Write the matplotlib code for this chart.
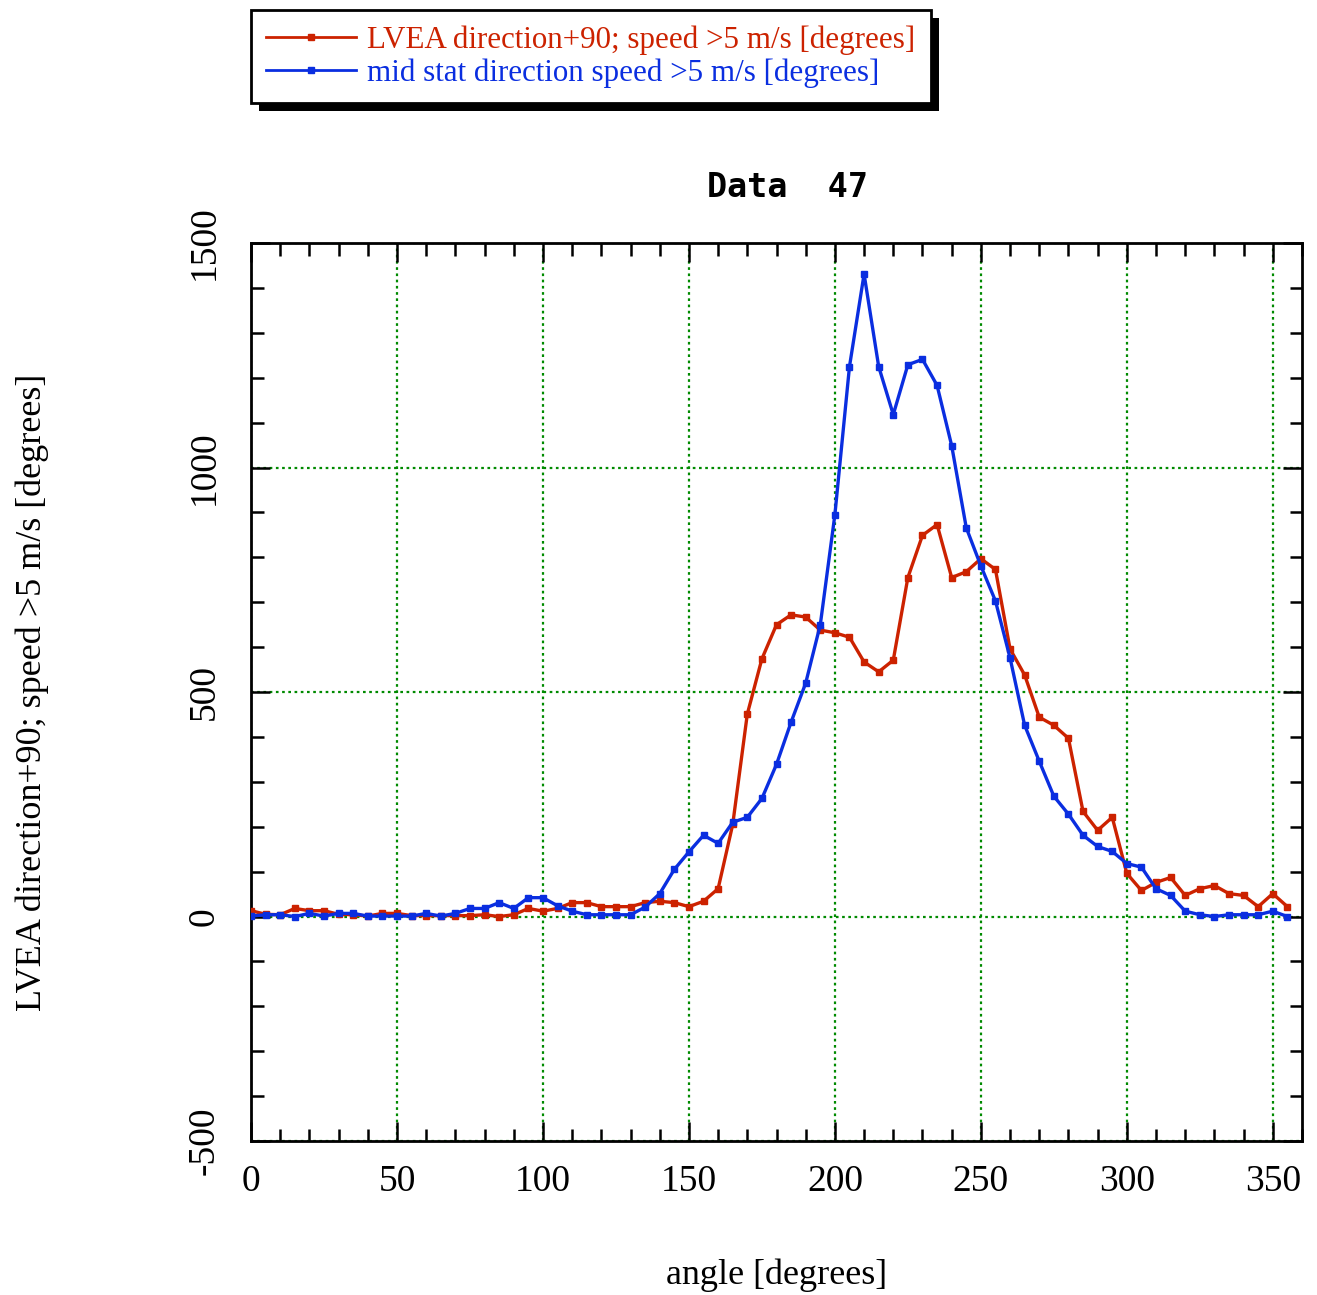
import numpy as np
from matplotlib import pyplot as plt
from matplotlib.patches import Rectangle
from matplotlib.ticker import MultipleLocator

# angle bins, every 5 degrees
angle = np.arange(0, 360, 5)

lvea = [13, 5, 4, 18, 13, 13, 5, 4, 1, 7,
        7, 2, 2, 2, 2, 2, 4, 0, 4, 18,
        12, 18, 31, 31, 22, 22, 22, 31, 34, 31,
        22, 34, 62, 205, 451, 574, 650, 672, 667, 638,
        632, 622, 567, 545, 571, 755, 849, 873, 755, 768,
        797, 773, 596, 538, 444, 426, 397, 234, 192, 221,
        96, 58, 76, 87, 47, 62, 69, 51, 47, 22,
        51, 22]

mid = [1, 4, 4, 0, 7, 1, 7, 7, 1, 1,
       1, 1, 7, 1, 7, 18, 18, 31, 18, 42,
       42, 24, 12, 4, 4, 4, 4, 21, 51, 105,
       144, 181, 163, 210, 221, 263, 339, 433, 520, 650,
       895, 1225, 1431, 1225, 1118, 1229, 1241, 1183, 1049, 866,
       781, 703, 576, 426, 346, 268, 228, 181, 156, 145,
       118, 110, 62, 47, 12, 4, 0, 4, 4, 4,
       12, 0]

lbl_red = "LVEA direction+90; speed >5 m/s [degrees]"
lbl_blue = "mid stat direction speed >5 m/s [degrees]"

RED = "#cc2200"
BLUE = "#0a2ee0"

plt.rcParams['font.family'] = ['Liberation Serif', 'DejaVu Serif']
plt.rcParams['axes.unicode_minus'] = False

fig = plt.figure(figsize=(13.17, 12.95), dpi=100)
ax = fig.add_axes([0.1906, 0.1189, 0.798, 0.6934])

l1, = ax.plot(angle, lvea, color=RED, lw=2.4, marker='s', ms=4, label=lbl_red, zorder=3)
l2, = ax.plot(angle, mid, color=BLUE, lw=2.4, marker='s', ms=4, label=lbl_blue, zorder=4)

ax.set_xlim(0, 360)
ax.set_ylim(-500, 1500)
ax.xaxis.set_major_locator(MultipleLocator(50))
ax.xaxis.set_minor_locator(MultipleLocator(10))
ax.yaxis.set_major_locator(MultipleLocator(500))
ax.yaxis.set_minor_locator(MultipleLocator(100))
ax.grid(True, which='major', color='#008a00', ls=(0, (1.2, 1.6)), lw=1.6)
ax.set_axisbelow(True)

ax.tick_params(which='both', direction='in', top=True, right=True, width=1.8,
               labelsize=27, colors='black')
ax.tick_params(which='major', length=14)
ax.tick_params(which='minor', length=9)
ax.tick_params(axis='x', which='major', pad=17)
ax.tick_params(axis='y', which='major', pad=21)
for sp in ax.spines.values():
    sp.set_linewidth(2)

for t in ax.get_yticklabels():
    t.set_rotation(90)
    t.set_va('center')
    t.set_ha('right')

ax.set_xlabel("angle [degrees]", fontsize=26, va='center')
ax.xaxis.set_label_coords(0.5, -0.149)
ax.set_ylabel(lbl_red, fontsize=26, va='center')
ax.yaxis.set_label_coords(-0.208, 0.5)
ax.set_title("Data  47", fontsize=24, fontweight='bold',
             family='DejaVu Sans Mono', pad=33)
ax.title.set_x(0.51)

leg = fig.legend(handles=[l1, l2], loc='upper left',
                 bbox_to_anchor=(251 / 1317, 1 - 10 / 1295),
                 fontsize=22.3, frameon=True, fancybox=False, numpoints=1,
                 framealpha=1, facecolor='white',
                 handlelength=2.9, handletextpad=0.35, borderpad=0.5,
                 labelspacing=0.1, labelcolor='linecolor', borderaxespad=0)
leg.get_frame().set_edgecolor('black')
leg.get_frame().set_linewidth(2)
leg.set_zorder(5)
for h in leg.legend_handles:
    h.set_linewidth(2)

# drop shadow under the legend box
fig.canvas.draw()
bb = leg.get_window_extent()
W, H = fig.bbox.width, fig.bbox.height
sh = Rectangle(((bb.x0 + 8) / W, (bb.y0 - 8) / H), bb.width / W, bb.height / H,
               transform=fig.transFigure, facecolor='black', edgecolor='none', zorder=4)
fig.patches.append(sh)

fig.savefig("out.png", dpi=100)
